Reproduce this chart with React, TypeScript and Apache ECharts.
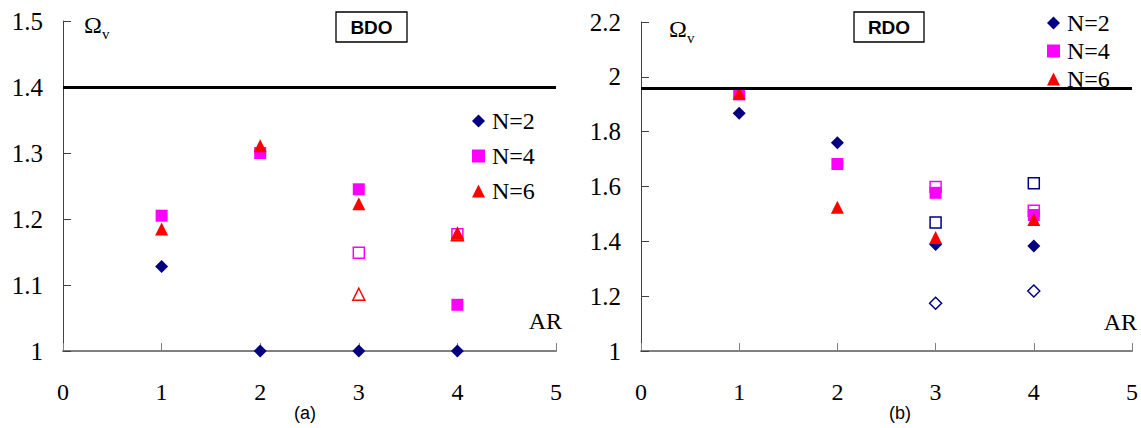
import React, { useEffect, useRef } from "react";
import * as echarts from "echarts";

// ---- data ----
const arValues = [1, 2, 3, 4];

// (a) BDO
const bdoN2 = [1.128, 1.0, 1.0, 1.0];
const bdoN4 = [1.205, 1.3, 1.245, 1.07];
const bdoN6 = [1.185, 1.311, 1.223, 1.179];
const bdoOpenAR = [3, 4];
const bdoN4Open = [1.149, 1.177];
const bdoN6Open = [1.086, 1.176];
const bdoLimit = 1.4;

// (b) RDO
const rdoN2 = [1.867, 1.76, 1.388, 1.383];
const rdoN4 = [1.936, 1.682, 1.577, 1.496];
const rdoN6 = [1.94, 1.524, 1.414, 1.48];
const rdoOpenAR = [3, 4];
const rdoN2OpenSquare = [1.469, 1.612];
const rdoN2OpenDiamond = [1.174, 1.219];
const rdoN4Open = [1.598, 1.512];
const rdoLimit = 1.96;

const bdoTicks = { min: 1, max: 1.5, interval: 0.1 };
const rdoTicks = { min: 1, max: 2.2, interval: 0.2 };
const arTicks = { min: 0, max: 5, interval: 1 };

const NAVY = "#000080";
const MAGENTA = "#FF00FF";
const RED = "#FF0000";

const serif = '"Liberation Serif", "Times New Roman", serif';
const sans = '"Liberation Sans", Arial, sans-serif';

const pairs = (xs: number[], ys: number[]) => xs.map((x, i) => [x, ys[i]]);

function xAxisFor(gridIndex: number) {
  return {
    type: "value",
    gridIndex,
    min: arTicks.min,
    max: arTicks.max,
    interval: arTicks.interval,
    axisLine: { show: true, onZero: false, lineStyle: { color: "#808080", width: 2 } },
    axisTick: { show: true, inside: true, length: 8, lineStyle: { color: "#808080", width: 1 } },
    axisLabel: { fontSize: 24, fontFamily: serif, color: "#000", margin: 29 },
    splitLine: { show: false },
  };
}

function yAxisFor(gridIndex: number, t: { min: number; max: number; interval: number }) {
  return {
    type: "value",
    gridIndex,
    min: t.min,
    max: t.max,
    interval: t.interval,
    axisLine: { show: true, onZero: false, lineStyle: { color: "#404040", width: 1 } },
    axisTick: { show: true, inside: true, length: 8, lineStyle: { color: "#404040", width: 1 } },
    axisLabel: { fontSize: 25, fontFamily: serif, color: "#000", margin: 20 },
    splitLine: { show: false },
  };
}

function openSeries(name: string, gi: number, symbol: string, color: string, size: number, data: number[][]) {
  return {
    name,
    type: "scatter",
    xAxisIndex: gi,
    yAxisIndex: gi,
    symbol,
    symbolSize: size,
    clip: false,
    itemStyle: { color: "rgba(255,255,255,0)", borderColor: color, borderWidth: 1.5, opacity: 1 },
    data,
  };
}

function filledSeries(name: string, gi: number, symbol: string, color: string, size: number, data: number[][], extra: any = {}) {
  return {
    name,
    type: "scatter",
    xAxisIndex: gi,
    yAxisIndex: gi,
    symbol,
    symbolSize: size,
    clip: false,
    itemStyle: { color, opacity: 1 },
    data,
    ...extra,
  };
}

function limitLine(value: number) {
  return {
    silent: true,
    symbol: ["none", "none"],
    label: { show: false },
    lineStyle: { color: "#000", width: 3, type: "solid", opacity: 1 },
    data: [{ yAxis: value }],
  };
}

const legendData = [
  { name: "N=2", icon: "diamond" },
  { name: "N=4", icon: "rect" },
  { name: "N=6", icon: "triangle" },
];

function legendAt(left: number, top: number, gap: number) {
  return {
    data: legendData,
    orient: "vertical",
    left,
    top,
    itemWidth: 13,
    itemHeight: 13,
    itemGap: gap,
    selectedMode: false,
    itemStyle: { opacity: 1 },
    textStyle: { fontSize: 24, fontFamily: serif, color: "#000", padding: [0, 0, 0, 2] },
  };
}

function boxLabel(x: number, w: number, text: string) {
  return [
    {
      type: "rect",
      shape: { x, y: 12, width: w, height: 30 },
      style: { fill: "#fff", stroke: "#000", lineWidth: 1.3 },
    },
    {
      type: "text",
      x: x + w / 2,
      y: 27.5,
      style: { text, fontSize: 19, fontWeight: "bold", fontFamily: sans, fill: "#000", align: "center", verticalAlign: "middle" },
    },
  ];
}

function omega(x: number, y: number) {
  return [
    {
      type: "text",
      x,
      y,
      style: { text: "Ω", fontSize: 24, fontFamily: serif, fill: "#000", align: "left", verticalAlign: "middle" },
    },
    {
      type: "text",
      x: x + 18,
      y: y + 9,
      style: { text: "v", fontSize: 15, fontFamily: serif, fill: "#000", align: "left", verticalAlign: "middle" },
    },
  ];
}

function plainText(x: number, y: number, text: string, size: number, family: string, align = "center") {
  return {
    type: "text",
    x,
    y,
    style: { text, fontSize: size, fontFamily: family, fill: "#000", align, verticalAlign: "middle" },
  };
}

export default function App() {
  const ref = useRef<HTMLDivElement>(null);
  useEffect(() => {
    if (!ref.current) return;
    const chart = echarts.init(ref.current, null, { renderer: "svg" });
    const option: any = {
      animation: false,
      backgroundColor: "#fff",
      grid: [
        { left: 63, right: 585, top: 21, bottom: 77 },
        { left: 641, right: 9, top: 22, bottom: 77 },
      ],
      xAxis: [xAxisFor(0), xAxisFor(1)],
      yAxis: [yAxisFor(0, bdoTicks), yAxisFor(1, rdoTicks)],
      legend: [legendAt(467, 104, 11), legendAt(1042, 6, 4)],
      series: [
        // (a) BDO
        openSeries("BDO N=4 open", 0, "rect", MAGENTA, 11, pairs(bdoOpenAR, bdoN4Open)),
        openSeries("BDO N=6 open", 0, "triangle", RED, 12, pairs(bdoOpenAR, bdoN6Open)),
        filledSeries("N=2", 0, "diamond", NAVY, 13, pairs(arValues, bdoN2), { markLine: limitLine(bdoLimit) }),
        filledSeries("N=4", 0, "rect", MAGENTA, 12, pairs(arValues, bdoN4)),
        filledSeries("N=6", 0, "triangle", RED, 13, pairs(arValues, bdoN6)),
        // (b) RDO
        openSeries("RDO N=2 open square", 1, "rect", NAVY, 11, pairs(rdoOpenAR, rdoN2OpenSquare)),
        openSeries("RDO N=2 open diamond", 1, "diamond", NAVY, 12, pairs(rdoOpenAR, rdoN2OpenDiamond)),
        openSeries("RDO N=4 open", 1, "rect", MAGENTA, 11, pairs(rdoOpenAR, rdoN4Open)),
        filledSeries("N=2", 1, "diamond", NAVY, 13, pairs(arValues, rdoN2), { markLine: limitLine(rdoLimit) }),
        filledSeries("N=4", 1, "rect", MAGENTA, 12, pairs(arValues, rdoN4)),
        filledSeries("N=6", 1, "triangle", RED, 13, pairs(arValues, rdoN6)),
      ],
      graphic: [
        ...boxLabel(336, 71, "BDO"),
        ...boxLabel(854, 70, "RDO"),
        ...omega(84, 25),
        ...omega(669, 29),
        plainText(562, 321, "AR", 24, serif, "right"),
        plainText(1137, 322, "AR", 24, serif, "right"),
        plainText(305, 413, "(a)", 18, sans),
        plainText(900, 413, "(b)", 18, sans),
      ],
    };
    chart.setOption(option);
    return () => chart.dispose();
  }, []);
  return (
    <div
      ref={ref}
      style={{ position: "fixed", left: 0, top: 0, width: 1141, height: 428, background: "#fff" }}
    />
  );
}
